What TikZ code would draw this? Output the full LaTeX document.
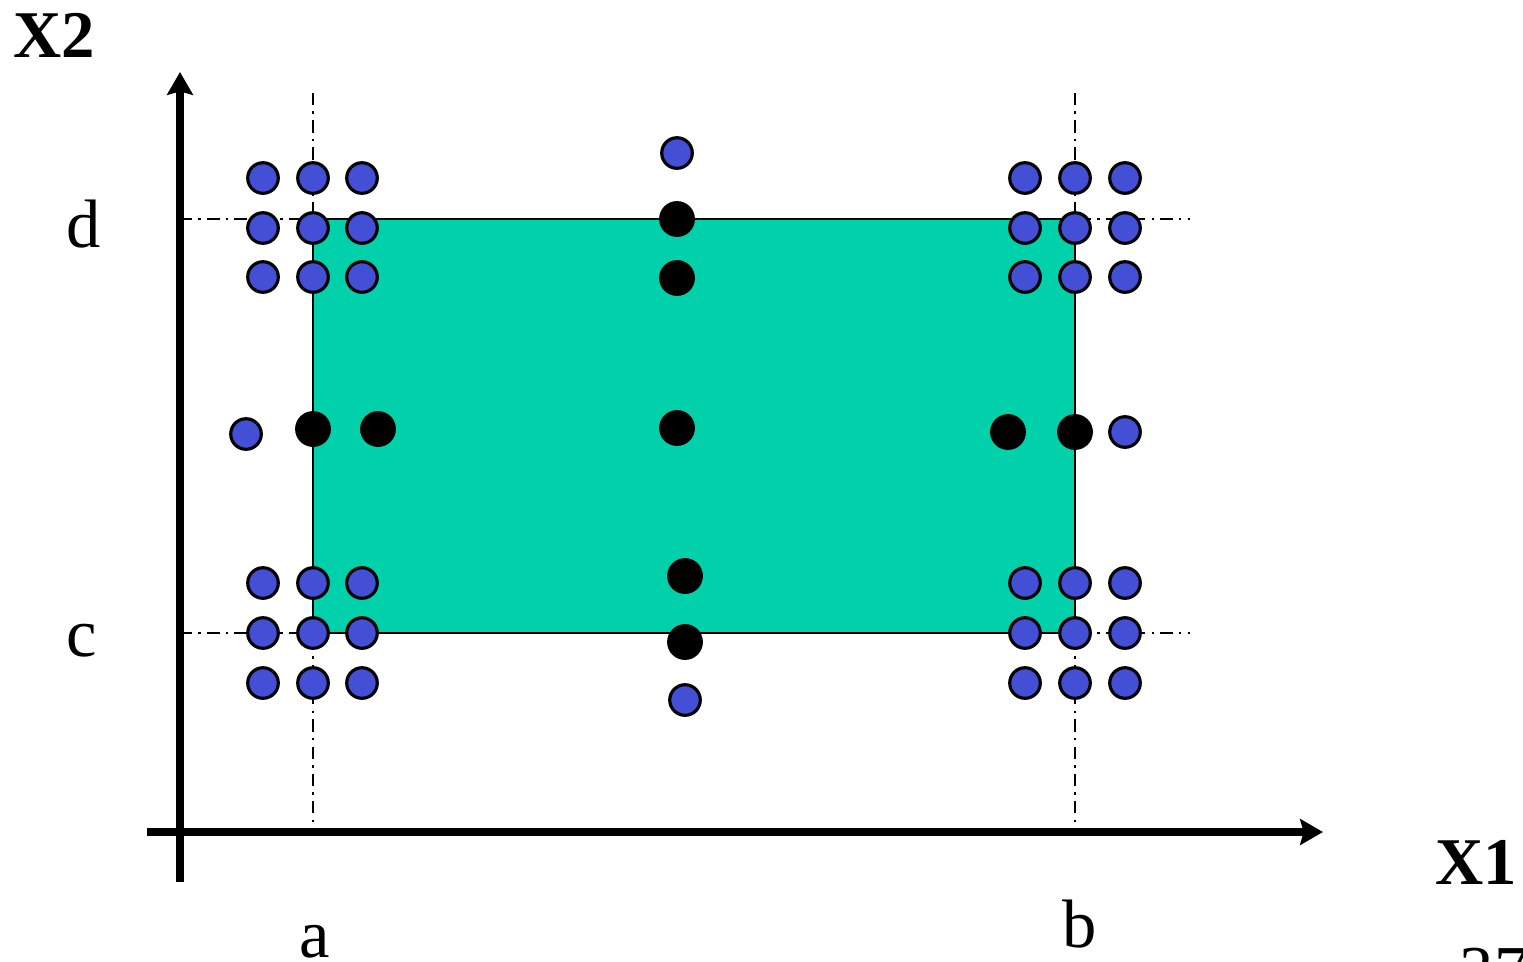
\documentclass[tikz,border=0pt]{standalone}
\usepackage{fontspec}
\setmainfont{Liberation Serif}
\usetikzlibrary{arrows.meta}
\definecolor{regiongreen}{RGB}{0,209,170}
\definecolor{dotblue}{RGB}{67,80,214}
\tikzset{
  axis/.style={line width=4.5pt,-{Stealth[length=13pt,width=14.7pt,inset=2pt]}},
  dashdot/.style={line width=1.3pt,dash pattern=on 7pt off 3.5pt on 1.5pt off 3.5pt},
  bdot/.style={circle,fill=dotblue,draw=black,line width=1.8pt,minimum size=17.4pt,inner sep=0pt},
  kdot/.style={circle,fill=black,minimum size=20.4pt,inner sep=0pt},
  lbl/.style={font=\fontsize{39}{40}\selectfont,inner sep=0pt},
  blbl/.style={font=\fontsize{38}{40}\selectfont\bfseries,inner sep=0pt}
}
\begin{document}
\begin{tikzpicture}[x=0.02cm,y=-0.02cm]
\useasboundingbox (0,0) rectangle (1523,961);
% region
\draw[fill=regiongreen,line width=1.3pt] (313,219) rectangle (1075,633);
% guide lines
\coordinate (va0) at (313,93); \coordinate (va1) at (313,832);
\coordinate (vb0) at (1075,93); \coordinate (vb1) at (1075,832);
\coordinate (hd0) at (180,219); \coordinate (hd1) at (1190,219);
\coordinate (hc0) at (180,633); \coordinate (hc1) at (1190,633);
\draw[dashdot] (va0) -- (va1);
\draw[dashdot] (vb0) -- (vb1);
\draw[dashdot] (hd0) -- (hd1);
\draw[dashdot] (hc0) -- (hc1);
% axes
\coordinate (y0) at (180,882); \coordinate (y1) at (180,72);
\coordinate (x0) at (147,832); \coordinate (x1) at (1323,832);
\draw[axis] (y0) -- (y1);
\draw[axis] (x0) -- (x1);
% corner grids
\foreach \cx/\nm in {263/a,313/b,362/c,1025/d,1075/e,1125/f}{
  \foreach \cy/\rn in {178/1,228/2,277/3,583/4,633/5,683/6}{
    \node[bdot] (g\nm\rn) at (\cx,\cy) {};
  }
}
% middle column
\node[bdot] (mt) at (677,153) {};
\node[kdot] (m1) at (677,219) {};
\node[kdot] (m2) at (677,278) {};
\node[kdot] (m3) at (677,428) {};
\node[kdot] (m4) at (685,576) {};
\node[kdot] (m5) at (685,642) {};
\node[bdot] (mb) at (685,700) {};
% middle row
\node[bdot] (ml) at (246,434) {};
\node[kdot] (r1) at (313,429) {};
\node[kdot] (r2) at (378,429) {};
\node[kdot] (r3) at (1008,432) {};
\node[kdot] (r4) at (1075,432) {};
\node[bdot] (mr) at (1125,432) {};
% labels
\node[blbl] (lx2) at (54,35) {X2};
\node[blbl] (lx1) at (1476,862) {X1};
\node[lbl] (ld) at (84,224) {d};
\node[lbl] (lc) at (82,641) {c};
\node[lbl] (la) at (315,942) {a};
\node[lbl] (lb) at (1080,924) {b};
\node[lbl] (lpg) at (1494,971) {37};
\end{tikzpicture}
\end{document}
